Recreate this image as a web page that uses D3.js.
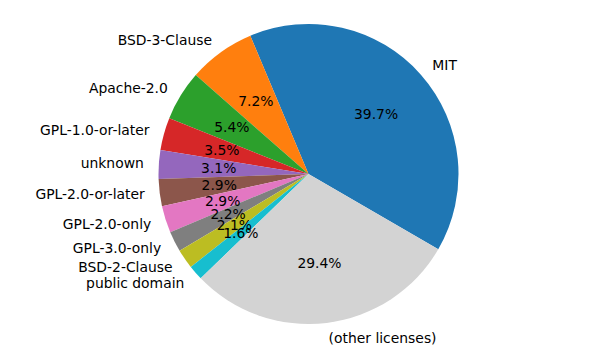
<!DOCTYPE html>
<html lang="en">
<head>
    <meta charset="UTF-8">
    <title>Licenses</title>
    <script src="https://d3js.org/d3.v7.min.js"></script>
    <style>
        body { margin: 0; background: #fff; }
        text { font-family: "DejaVu Sans", sans-serif; font-size: 13.9px; fill: #000; }
    </style>
</head>
<body>
    <div id="chart"></div>

    <script>
        var labels = ["MIT", "BSD-3-Clause", "Apache-2.0", "GPL-1.0-or-later", "unknown",
                      "GPL-2.0-or-later", "GPL-2.0-only", "GPL-3.0-only", "BSD-2-Clause",
                      "public domain", "(other licenses)"];
        var shares = [39.7, 7.2, 5.4, 3.5, 3.1, 2.9, 2.9, 2.2, 2.1, 1.6, 29.4];
        var colors = ["#1f77b4", "#ff7f0e", "#2ca02c", "#d62728", "#9467bd", "#8c564b",
                      "#e377c2", "#7f7f7f", "#bcbd22", "#17becf", "#d3d3d3"];

        var width = 598, height = 350;
        var cx = 308.5, cy = 174, r = 150;
        // matplotlib-style: counterclockwise, first wedge starts at -30 deg
        var start = (90 + 30.1) * Math.PI / 180;

        var svg = d3.select("#chart").append("svg")
            .attr("width", width)
            .attr("height", height)
            .append("g")
            .attr("transform", "translate(" + cx + "," + cy + ")");

        var pie = d3.pie()
            .sort(null)
            .value(function(d) { return d; })
            .startAngle(start)
            .endAngle(start - 2 * Math.PI);

        var arcs = pie(shares);
        var arc = d3.arc().innerRadius(0).outerRadius(r);

        svg.selectAll("path.slice")
            .data(arcs)
            .enter().append("path")
            .attr("class", "slice")
            .attr("d", arc)
            .attr("fill", function(d, i) { return colors[i]; });

        function pos(d, k) {
            var mid = (d.startAngle + d.endAngle) / 2;
            return [Math.sin(mid) * r * k, -Math.cos(mid) * r * k];
        }

        svg.selectAll("text.label")
            .data(arcs)
            .enter().append("text")
            .attr("class", "label")
            .attr("x", function(d) { return pos(d, 1.1)[0]; })
            .attr("y", function(d) { return pos(d, 1.1)[1]; })
            .attr("dy", "0.35em")
            .attr("text-anchor", function(d) { return pos(d, 1.1)[0] > 0 ? "start" : "end"; })
            .text(function(d, i) { return labels[i]; });

        svg.selectAll("text.pct")
            .data(arcs)
            .enter().append("text")
            .attr("class", "pct")
            .attr("x", function(d) { return pos(d, 0.6)[0]; })
            .attr("y", function(d) { return pos(d, 0.6)[1]; })
            .attr("dy", "0.35em")
            .attr("text-anchor", "middle")
            .text(function(d) { return d.data.toFixed(1) + "%"; });
    </script>
</body>
</html>
